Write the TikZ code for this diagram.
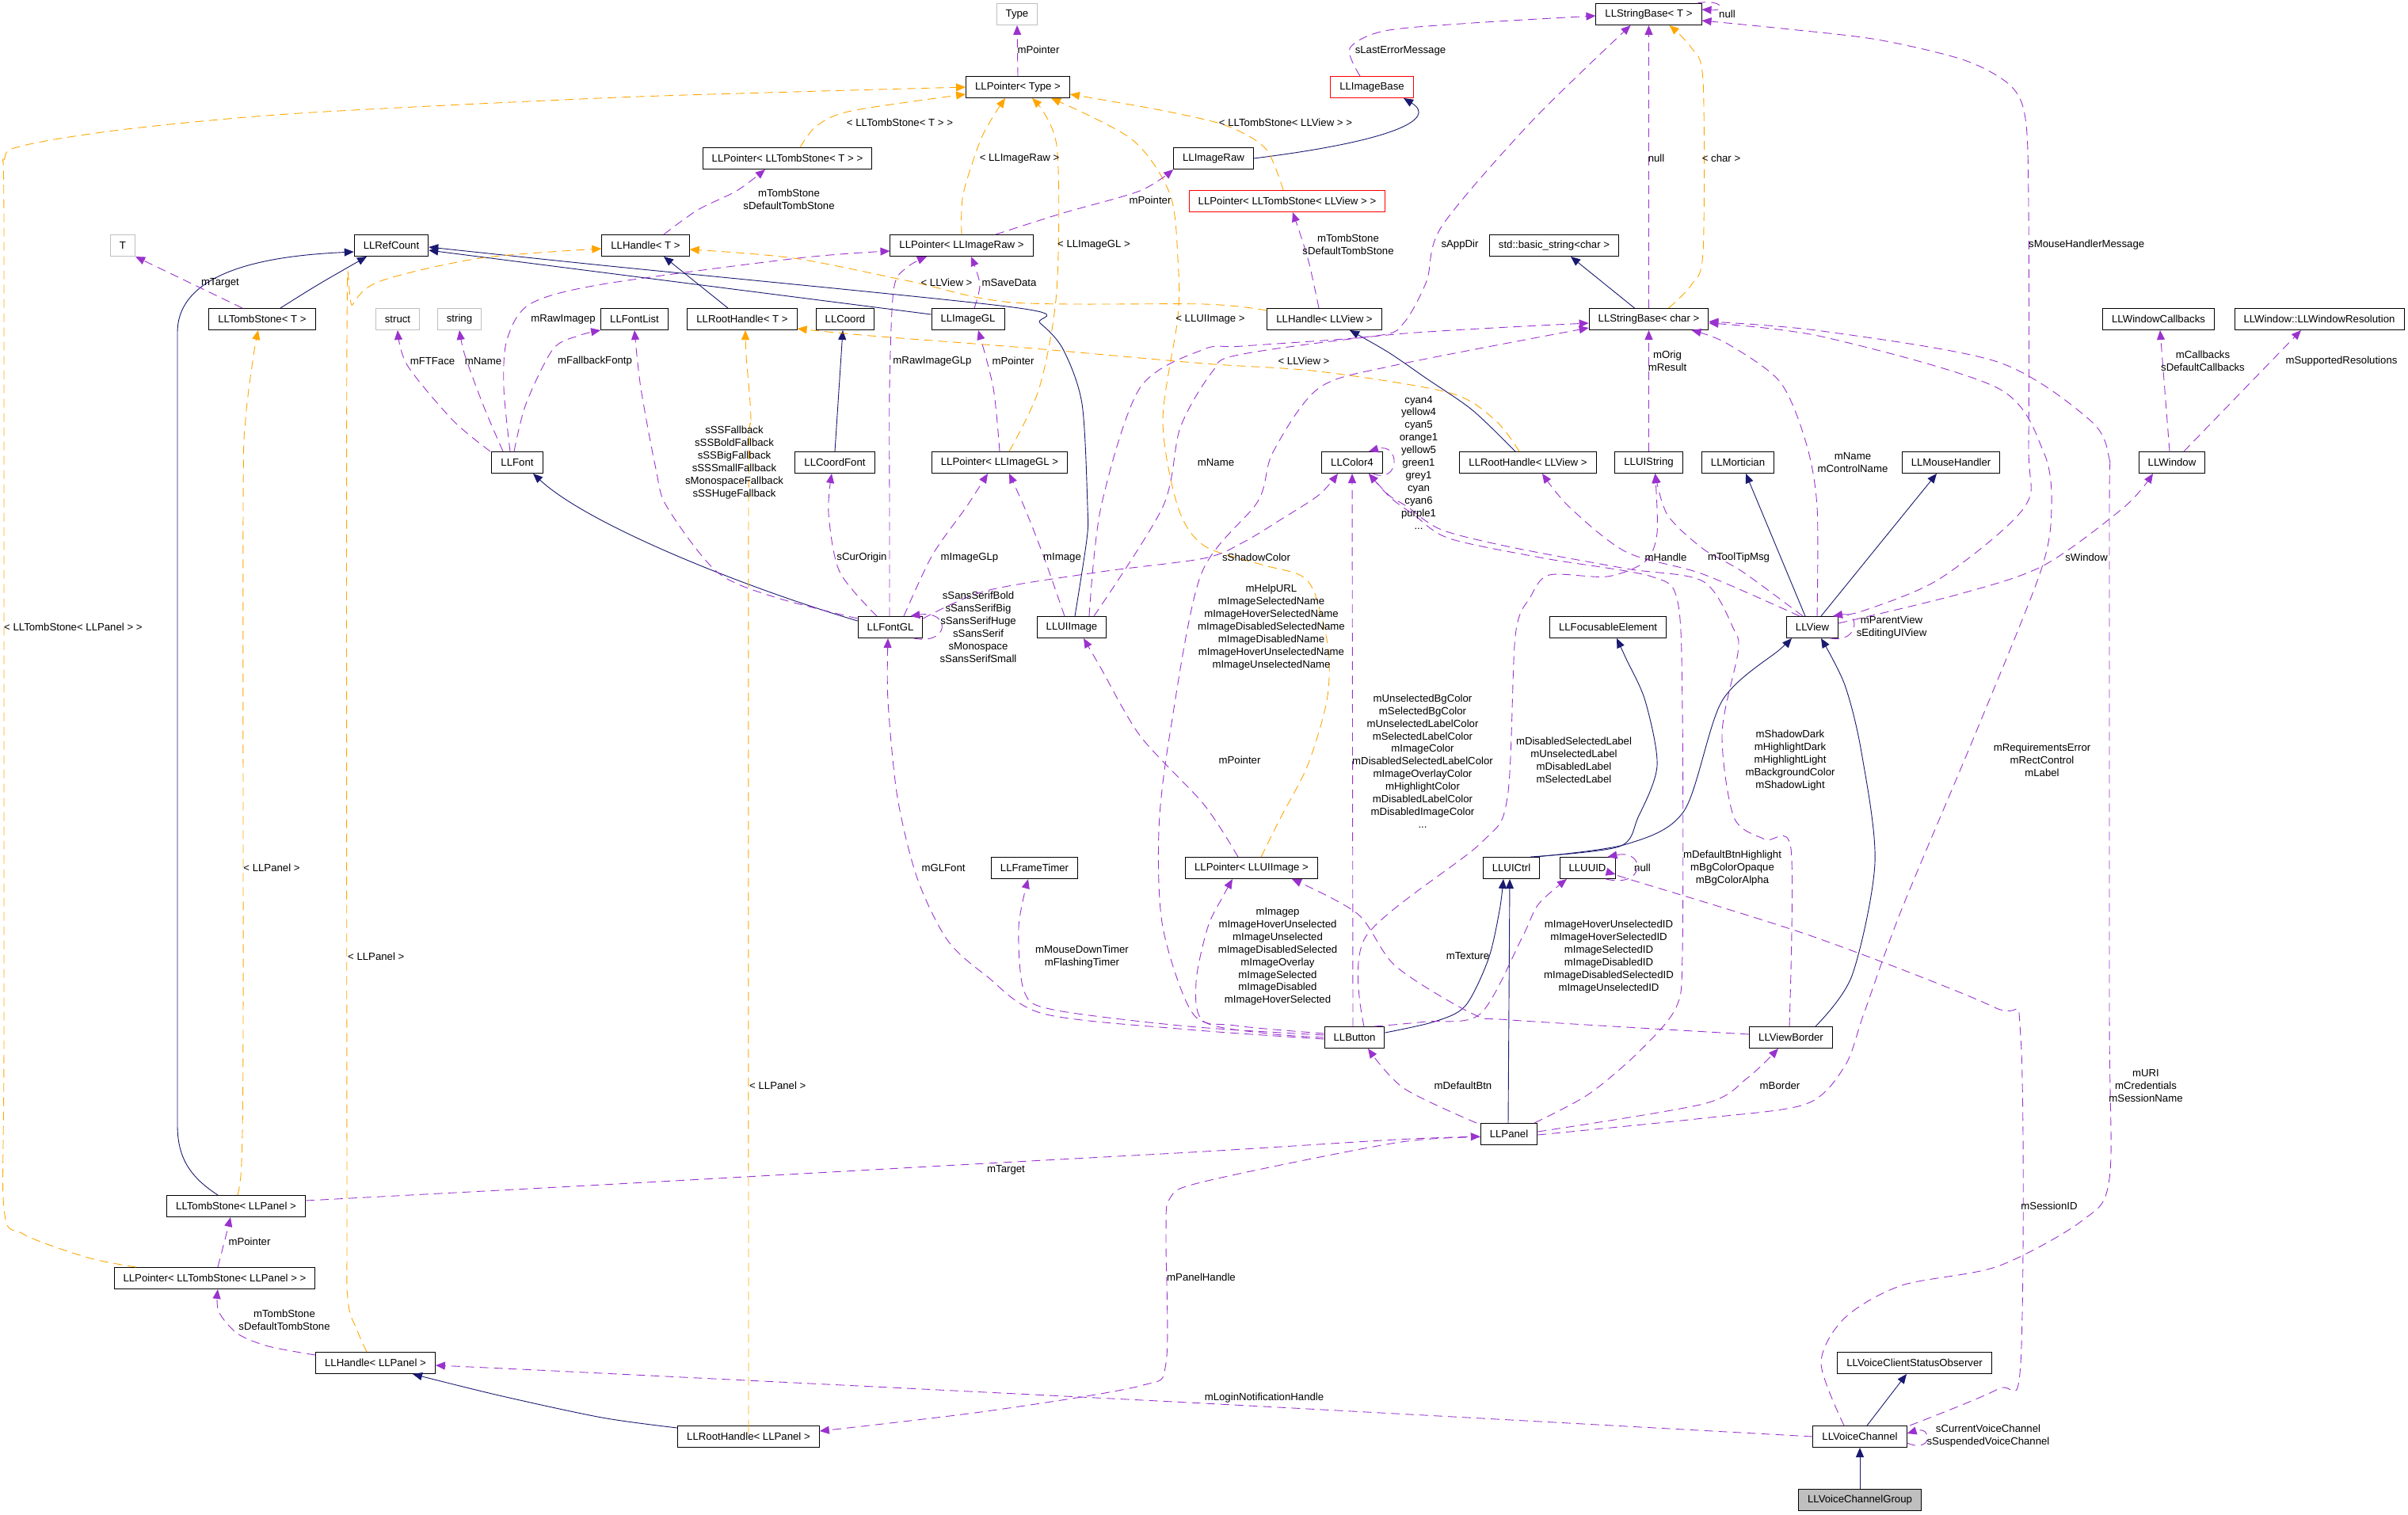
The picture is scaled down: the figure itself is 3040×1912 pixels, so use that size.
\documentclass[tikz,border=0pt]{standalone}
\usepackage{fontspec}
\setmainfont{Liberation Sans}
\usetikzlibrary{arrows.meta}
\definecolor{dxBlue}{RGB}{25,25,112}
\definecolor{dxPurple}{RGB}{154,50,205}
\definecolor{dxOrange}{RGB}{255,165,0}
\definecolor{dxGray}{RGB}{191,191,191}
\newcommand{\dxfont}{\fontsize{13.2}{15.9}\selectfont}

\begin{document}
\begin{tikzpicture}[x=1pt,y=-1pt,
  cls/.style={draw=black,line width=1pt,fill=white,inner xsep=11.5pt,inner ysep=0pt,minimum height=27pt,font=\dxfont},
  ext/.style={cls,draw=dxGray},
  bad/.style={cls,draw=red},
  cur/.style={cls,fill=dxGray},
  inh/.style={dxBlue,line width=0.9pt,-{Triangle[length=12pt,width=10pt]}},
  use/.style={dxPurple,line width=0.9pt,dash pattern=on 11pt off 7pt,-{Triangle[length=12pt,width=10pt]}},
  tpl/.style={dxOrange,line width=0.9pt,dash pattern=on 11pt off 7pt,-{Triangle[length=12pt,width=10pt]}},
  lab/.style={font=\dxfont,align=center,inner sep=0pt}]
\useasboundingbox (0,0) rectangle (3040,1912);
\node[ext] (nT) at (155,310) {T};
\node[cls] (nRef) at (494,310) {LLRefCount};
\node[cls] (nTombT) at (331,403) {LLTombStone< T >};
\node[ext] (nStruct) at (502,403) {struct};
\node[ext] (nString) at (580,403) {string};
\node[cls] (nFont) at (653,584) {LLFont};
\node[ext] (nType) at (1284,18) {Type};
\node[cls] (nPtrType) at (1285,110) {LLPointer< Type >};
\node[cls] (nPtrTombT) at (994,200) {LLPointer< LLTombStone< T > >};
\node[cls] (nHandleT) at (815,310) {LLHandle< T >};
\node[cls] (nPtrRaw) at (1214,310) {LLPointer< LLImageRaw >};
\node[cls] (nFontList) at (801,403) {LLFontList};
\node[cls] (nRootT) at (937,403) {LLRootHandle< T >};
\node[cls] (nCoord) at (1067,403) {LLCoord};
\node[cls] (nImageGL) at (1222,403) {LLImageGL};
\node[cls] (nCoordFont) at (1054,584) {LLCoordFont};
\node[cls] (nPtrGL) at (1262,584) {LLPointer< LLImageGL >};
\node[cls] (nImageRaw) at (1532,200) {LLImageRaw};
\node[bad] (nPtrTombView) at (1625,254) {LLPointer< LLTombStone< LLView > >};
\node[bad] (nImageBase) at (1732,110) {LLImageBase};
\node[cls] (nStrT) at (2081.5,18) {LLStringBase< T >};
\node[cls] (nStdStr) at (1962,310) {std::basic\_string<char >};
\node[cls] (nHandleView) at (1672,403) {LLHandle< LLView >};
\node[cls] (nStrChar) at (2081.5,403) {LLStringBase< char >};
\node[cls] (nColor) at (1707,584) {LLColor4};
\node[cls] (nRootView) at (1929,584) {LLRootHandle< LLView >};
\node[cls] (nUIString) at (2081.5,584) {LLUIString};
\node[cls] (nMortician) at (2194,584) {LLMortician};
\node[cls] (nWinCb) at (2725,403) {LLWindowCallbacks};
\node[cls] (nWinRes) at (2928,403) {LLWindow::LLWindowResolution};
\node[cls] (nMouse) at (2463,584) {LLMouseHandler};
\node[cls] (nWindow) at (2742,584) {LLWindow};
\node[cls] (nFontGL) at (1124,792) {LLFontGL};
\node[cls] (nUIImage) at (1353,792) {LLUIImage};
\node[cls] (nFocus) at (2030,792) {LLFocusableElement};
\node[cls] (nView) at (2288,792) {LLView};
\node[cls] (nTimer) at (1306,1096) {LLFrameTimer};
\node[cls] (nPtrUIImage) at (1580,1096) {LLPointer< LLUIImage >};
\node[cls] (nUICtrl) at (1908,1096) {LLUICtrl};
\node[cls] (nUUID) at (2004,1096) {LLUUID};
\node[cls] (nButton) at (1710,1310) {LLButton};
\node[cls] (nBorder) at (2261,1310) {LLViewBorder};
\node[cls] (nPanel) at (1905,1432) {LLPanel};
\node[cls] (nTombPanel) at (298,1523) {LLTombStone< LLPanel >};
\node[cls] (nPtrTombPanel) at (271,1614) {LLPointer< LLTombStone< LLPanel > >};
\node[cls] (nHandlePanel) at (474,1721) {LLHandle< LLPanel >};
\node[cls] (nObserver) at (2417,1721) {LLVoiceClientStatusObserver};
\node[cls] (nRootPanel) at (945,1814) {LLRootHandle< LLPanel >};
\node[cls] (nVoice) at (2348,1814) {LLVoiceChannel};
\node[cur] (nVoiceGroup) at (2348,1894) {LLVoiceChannelGroup};

\draw[inh] ([xshift=23pt]nTombT.north) .. controls (400,360) .. ([xshift=-31pt]nRef.south);
\draw[inh] ([xshift=-23pt]nTombPanel.north) .. controls (238,1485) and (224,1460) .. (224,1420) -- (224,420) .. controls (224,335) and (360,322) .. ([yshift=-8pt]nRef.west);
\draw[inh] ([yshift=6pt]nImageGL.west) -- ([yshift=-6pt]nRef.east);
\draw[inh] plot[smooth] coordinates {([xshift=4pt]nUIImage.north) (1372,681) (1373,640) (1366,510) (1342,441) (1313,408) (1279,388) (760,335) ([yshift=-2pt]nRef.east)};
\draw[inh] ([xshift=-18pt]nRootT.north) -- ([xshift=23pt]nHandleT.south);
\draw[inh] plot[smooth] coordinates {([yshift=11pt]nRootPanel.west) (760,1790) (630,1762) ([xshift=47pt]nHandlePanel.south)};
\draw[inh] plot[smooth] coordinates {([xshift=-16pt]nRootView.north) (1859,518) (1801,478) (1753,445) ([xshift=32pt]nHandleView.south)};
\draw[inh] (nImageRaw.east) .. controls (1760,178) and (1815,150) .. ([xshift=40pt]nImageBase.south);
\draw[inh] ([xshift=-18pt]nStrChar.north) -- ([xshift=21pt]nStdStr.south);
\draw[inh] ([yshift=8pt]nFontGL.west) .. controls (950,745) and (745,665) .. ([xshift=20pt]nFont.south);
\draw[inh] (nCoordFont.north) -- ([xshift=-3pt]nCoord.south);
\draw[inh] ([xshift=-9pt]nView.north) -- ([xshift=10pt]nMortician.south);
\draw[inh] ([xshift=11pt]nView.north) -- ([xshift=-18pt]nMouse.south);
\draw[inh] plot[smooth] coordinates {([xshift=24pt]nUICtrl.north) (2044,1069) (2068,1032) (2092,967) (2077,885) (2053,832) ([xshift=11pt]nFocus.south)};
\draw[inh] plot[smooth] coordinates {([xshift=30pt]nUICtrl.north) (2053,1066) (2126,1024) (2174,885) (2247,820) ([xshift=-26pt]nView.south)};
\draw[inh] plot[smooth] coordinates {([xshift=31pt]nBorder.north) (2338,1232) (2367,1089) (2350,950) (2329,865) ([xshift=11pt]nView.south)};
\draw[inh] ([xshift=-1pt]nPanel.north) -- ([xshift=-2pt]nUICtrl.south);
\draw[inh] plot[smooth] coordinates {([yshift=6pt]nButton.east) (1811,1290) (1850,1270) (1879,1211) (1893,1150) ([xshift=-10pt]nUICtrl.south)};
\draw[inh] ([xshift=9pt]nVoice.north) -- ([xshift=-10pt]nObserver.south);
\draw[inh] (nVoiceGroup.north) -- (nVoice.south);

\draw[use] (nPtrType.north) -- (nType.south);
\draw[tpl] plot[smooth] coordinates {([xshift=16pt]nPtrTombT.north) (1031,159) (1075,140) ([yshift=5pt]nPtrType.south west)};
\draw[tpl] plot[smooth] coordinates {(nPtrRaw.north) (1216,245) (1240,172) ([xshift=-16pt]nPtrType.south)};
\draw[tpl] plot[smooth] coordinates {([xshift=12pt]nPtrGL.north) (1312,490) (1334,367) (1334,184) ([xshift=18pt]nPtrType.south)};
\draw[tpl] plot[smooth] coordinates {([xshift=12pt]nPtrUIImage.north) (1617,1032) (1651,966) (1675,885) (1677,820) (1660,750) (1641,726) (1593,713) (1520,689) (1487,640) (1468,531) (1487,400) (1487,327) (1477,245) (1429,176) ([xshift=42pt]nPtrType.south)};
\draw[tpl] plot[smooth] coordinates {([xshift=-5pt]nPtrTombView.north) (1598,188) (1549,159) (1470,140) ([yshift=-9pt]nPtrType.east)};
\draw[use] plot[smooth] coordinates {([xshift=-15pt]nImageBase.north) (1704,61) (1748,39) (1859,29) ([yshift=-2pt]nStrT.west)};
\draw[use] plot[smooth] coordinates {([xshift=43pt]nPtrRaw.north) (1342,269) (1439,241) (nImageRaw.south west)};
\draw[use] plot[smooth] coordinates {([xshift=23pt]nHandleT.north) (881,265) (930,241) ([xshift=-28pt]nPtrTombT.south)};
\draw[use] plot[smooth] coordinates {([xshift=-7pt]nHandleView.north) (1651,326) ([xshift=7pt]nPtrTombView.south)};
\draw[use] ([xshift=-25pt]nTombT.north) -- (nT.south east);
\draw[tpl] plot[smooth] coordinates {([xshift=2pt]nTombPanel.north) (305,1468) (307,1300) (307,640) (310,530) (320,449) ([xshift=-5pt]nTombT.south)};
\draw[tpl] plot[smooth] coordinates {([xshift=-99pt]nPtrTombPanel.north) (111,1588) (29,1558) (5,1525) (5,1300) (5,300) (5,204) (29,184) (160,163) (378,143) (756,124) (1002,116) (nPtrType.west)};
\draw[use] plot[smooth] coordinates {([yshift=10pt]nHandlePanel.west) (339,1700) (300,1684) (276,1656) ([xshift=4pt]nPtrTombPanel.south)};
\draw[use] ([xshift=4pt]nPtrTombPanel.north) .. controls (282,1575) .. ([xshift=-7pt]nTombPanel.south);
\draw[tpl] plot[smooth] coordinates {([xshift=-11pt]nHandlePanel.north) (451,1680) (439,1639) (438,1500) (438,420) (445,385) (480,355) (606,326) ([yshift=-4pt]nHandleT.west)};
\draw[tpl] plot[smooth] coordinates {(nRootPanel.north) (945,1700) (945,640) (948,531) (942,449) ([xshift=4pt]nRootT.south)};
\draw[tpl] plot[smooth] coordinates {([xshift=-11pt]nRootView.north) (1888,531) (1830,496) (1665,469) (1520,459) (1293,439) (1099,424) ([yshift=-12pt]nRootT.east)};
\draw[tpl] plot[smooth] coordinates {([yshift=11pt]nHandleView.west) (1520,384) (1279,382) (1148,355) (1002,326) ([yshift=-5pt]nHandleT.east)};
\draw[use] plot[smooth] coordinates {([xshift=-34pt]nFont.north) (572,531) (514,461) (nStruct.south)};
\draw[use] plot[smooth] coordinates {([xshift=-18pt]nFont.north) (611,514) (587,449) (nString.south)};
\draw[use] plot[smooth] coordinates {([xshift=-9pt]nFont.north) (636,490) (640,429) (669,384) (760,359) (1007,326) ([yshift=-7pt]nPtrRaw.west)};
\draw[use] plot[smooth] coordinates {([xshift=-4pt]nFont.north) (664,510) (698,441) (730,424) (nFontList.south west)};
\draw[use] plot[smooth] coordinates {([yshift=11pt]nFontGL.west) (978,754) (905,722) (842,640) (828,592) (809,490) (nFontList.south)};
\draw[use] plot[smooth] coordinates {([xshift=-17pt]nFontGL.north) (1060,722) (1046,648) ([xshift=-4pt]nCoordFont.south)};
\draw[use] plot[smooth] coordinates {([xshift=-1pt]nFontGL.north) (1123,640) (1123,490) (1128,367) (1143,339) ([xshift=-44pt]nPtrRaw.south)};
\draw[use] plot[smooth] coordinates {([xshift=17pt]nFontGL.north) (1177,701) (1220,640) ([xshift=-15pt]nPtrGL.south)};
\draw[use] ([xshift=-12pt]nFontGL.south east) .. controls (1200,815) and (1200,770) .. ([xshift=-16pt]nFontGL.north east);
\draw[use] plot[smooth] coordinates {([yshift=11pt]nFontGL.east) (1245,746) (1390,722) (1520,705) (1569,685) (1617,656) (1665,625) ([xshift=-18pt]nColor.south)};
\draw[use] plot[smooth] coordinates {([xshift=-9pt]nUIImage.north) (1317,701) (1293,640) ([xshift=12pt]nPtrGL.south)};
\draw[use] plot[smooth] coordinates {([xshift=8pt]nImageGL.north) (1237,359) ([xshift=12pt]nPtrRaw.south)};
\draw[use] plot[smooth] coordinates {(nPtrGL.north) (1254,490) ([xshift=13pt]nImageGL.south)};
\draw[use] plot[smooth] coordinates {([xshift=22pt]nUIImage.north) (1390,640) (1439,490) (1520,441) (1569,437) (1738,424) (1772,408) (1801,355) (1820,286) (1932,155) ([xshift=-23pt]nStrT.south)};
\draw[use] plot[smooth] coordinates {([xshift=28pt]nUIImage.north) (1468,640) (1490,540) (1530,470) (1564,448) (1762,422) ([yshift=-5pt]nStrChar.west)};
\draw[use] plot[smooth] coordinates {([yshift=5pt]nButton.west) (1560,1295) (1506,1280) (1468,1171) (1463,1048) (1477,926) (1516,726) (1588,633) (1607,571) (1665,490) (1762,461) ([yshift=-11pt]nStrChar.west)};
\draw[use] (nUIString.north) -- (nStrChar.south);
\draw[use] (nStrChar.north) -- (nStrT.south);
\draw[tpl] plot[smooth] coordinates {([xshift=25pt]nStrChar.north) (2135,360) (2150,318) (2150,102) (2135,60) ([xshift=26pt]nStrT.south)};
\draw[use] ([xshift=-6pt]nStrT.north east) .. controls (2172,-2) and (2182,14) .. ([yshift=6pt]nStrT.east);
\draw[use] plot[smooth] coordinates {([xshift=26pt]nView.north) (2353,771) (2450,730) (2556,640) (2561,560) (2561,260) (2557,150) (2538,108) (2480,76) (2370,50) (2250,36) ([yshift=-8pt]nStrT.east)};
\draw[use] plot[smooth] coordinates {([yshift=5pt]nView.east) (2474,750) (2580,714) (2682,640) ([xshift=-24pt]nWindow.south)};
\draw[use] ([xshift=-10pt]nView.south east) .. controls (2348,812) and (2348,772) .. ([xshift=-7pt]nView.north east);
\draw[use] ([xshift=-3pt]nWindow.north) -- ([xshift=2pt]nWinCb.south);
\draw[use] ([xshift=15pt]nWindow.north) -- ([xshift=-23pt]nWinRes.south);
\draw[use] plot[smooth] coordinates {([xshift=6pt]nView.north) (2294,640) (2280,559) (2247,482) (2179,433) ([xshift=54pt]nStrChar.south)};
\draw[use] plot[smooth] coordinates {([xshift=-12pt]nView.north) (2200,722) (2150,693) (2105,650) ([xshift=8pt]nUIString.south)};
\draw[use] plot[smooth] coordinates {([xshift=-16pt]nView.north) (2150,725) (2053,697) (1981,640) ([xshift=18pt]nRootView.south)};
\draw[use] ([xshift=26pt]nColor.south) .. controls (1768,612) and (1768,558) .. ([xshift=21pt]nColor.north);
\draw[use] ([xshift=-2pt]nButton.north) -- (nColor.south);
\draw[use] plot[smooth] coordinates {([xshift=-2pt]nBorder.north) (2261,1072) (2228,1060) (2189,1032) (2174,926) (2194,824) (2189,795) (2150,734) (2053,718) (1908,691) (1820,669) (1777,640) (1753,625) ([xshift=21pt]nColor.south)};
\draw[use] plot[smooth] coordinates {([xshift=32pt]nPanel.north) (2005,1382) (2068,1329) (2116,1272) (2124,1200) (2124,900) (2118,760) (2085,728) (1950,705) (1830,680) (1785,650) (1755,628) ([xshift=21pt]nColor.south)};
\draw[use] plot[smooth] coordinates {([xshift=12pt]nButton.north) (1724,1183) (1869,1065) (1903,1007) (1913,803) (1932,754) (1956,726) (2029,728) (2077,709) (2092,673) ([xshift=8pt]nUIString.south)};
\draw[use] plot[smooth] coordinates {(nButton.west) (1600,1305) (1520,1290) (1510,1240) (1525,1170) (1545,1130) ([xshift=-24pt]nPtrUIImage.south)};
\draw[use] plot[smooth] coordinates {([yshift=4pt]nBorder.west) (1908,1288) (1859,1280) (1762,1220) (1714,1154) ([xshift=51pt]nPtrUIImage.south)};
\draw[use] plot[smooth] coordinates {([xshift=-17pt]nPtrUIImage.north) (1520,1016) (1440,930) (1390,844) ([xshift=15pt]nUIImage.south)};
\draw[use] plot[smooth] coordinates {([yshift=-2pt]nButton.west) (1500,1300) (1317,1280) (1245,1232) (1196,1187) (1158,1109) (1133,1007) (1121,885) ([xshift=-3pt]nFontGL.south)};
\draw[use] plot[smooth] coordinates {([yshift=3pt]nButton.west) (1500,1296) (1330,1275) (1293,1252) (1286,1171) ([xshift=-8pt]nTimer.south)};
\draw[use] plot[smooth] coordinates {([xshift=25pt]nButton.north) (1800,1290) (1869,1280) (1922,1183) (1942,1142) ([xshift=-26pt]nUUID.south)};
\draw[use] ([xshift=-12pt]nUUID.south east) .. controls (2078,1122) and (2078,1072) .. ([xshift=-10pt]nUUID.north east);
\draw[use] plot[smooth] coordinates {([xshift=-41pt]nPanel.north) (1772,1374) ([xshift=17pt]nButton.south)};
\draw[use] plot[smooth] coordinates {([yshift=3pt]nPanel.east) (2150,1394) (2205,1362) ([xshift=-16pt]nBorder.south)};
\draw[use] plot[smooth] coordinates {([yshift=-1pt]nPanel.east) (2150,1412) (2280,1394) (2329,1346) (2353,1280) (2400,1150) (2494,926) (2576,722) (2590,640) (2580,571) (2522,490) (2300,425) ([yshift=-5pt]nStrChar.east)};
\draw[use] plot[smooth] coordinates {([yshift=-4pt]nPanel.west) (1762,1443) (1520,1492) (1477,1513) (1472,1560) (1472,1721) (1439,1750) (1245,1782) ([yshift=7pt]nRootPanel.east)};
\draw[use] plot[smooth] coordinates {([yshift=7pt]nTombPanel.east) (760,1496) (1245,1469) (1520,1454) (1762,1439) ([yshift=-3pt]nPanel.west)};
\draw[use] plot[smooth] coordinates {([xshift=-20pt]nVoice.north) (2299,1721) (2329,1664) (2401,1623) (2522,1599) (2629,1541) (2663,1488) (2663,1280) (2663,640) (2663,580) (2639,531) (2522,457) (2300,418) ([yshift=-3pt]nStrChar.east)};
\draw[use] plot[smooth] coordinates {([xshift=63pt]nVoice.north) (2522,1754) (2551,1721) (2551,1309) (2518,1272) (2290,1183) (2053,1109) ([yshift=-8pt]nUUID.east)};
\draw[use] ([yshift=-8pt]nVoice.east) .. controls (2440,1836) and (2440,1800) .. ([yshift=4pt]nVoice.east);
\draw[use] plot[smooth] coordinates {(nVoice.west) (1520,1772) (760,1734) ([yshift=-3pt]nHandlePanel.east)};

\node[lab] (l1) at (1311,63) {mPointer};
\node[lab] (l2) at (1136,155) {< LLTombStone< T > >};
\node[lab] (l3) at (1287,200) {< LLImageRaw >};
\node[lab] (l4) at (1381,309) {< LLImageGL >};
\node[lab] (l5) at (1528,403) {< LLUIImage >};
\node[lab] (l6) at (1623,155) {< LLTombStone< LLView > >};
\node[lab] (l7) at (1768,64) {sLastErrorMessage};
\node[lab] (l9) at (1452,253) {mPointer};
\node[lab] (l10) at (996,252) {mTombStone\\sDefaultTombStone};
\node[lab] (l11) at (1702,309) {mTombStone\\sDefaultTombStone};
\node[lab] (l12) at (278,357) {mTarget};
\node[lab] (l15) at (343,1096) {< LLPanel >};
\node[lab,anchor=west] (l16) at (5,792) {< LLTombStone< LLPanel > >};
\node[lab] (l17) at (359,1667) {mTombStone\\sDefaultTombStone};
\node[lab] (l18) at (315,1568) {mPointer};
\node[lab,anchor=west] (l19) at (439,1208) {< LLPanel >};
\node[lab,anchor=west] (l21) at (946,1371) {< LLPanel >};
\node[lab] (l23) at (1646,456) {< LLView >};
\node[lab] (l24) at (1195,357) {< LLView >};
\node[lab] (l28) at (546,456) {mFTFace};
\node[lab] (l29) at (610,456) {mName};
\node[lab] (l30) at (711,403) {mRawImagep};
\node[lab] (l31) at (751,456) {mFallbackFontp};
\node[lab] (l33) at (927,584) {sSSFallback\\sSSBoldFallback\\sSSBigFallback\\sSSSmallFallback\\sMonospaceFallback\\sSSHugeFallback};
\node[lab] (l34) at (1088,704) {sCurOrigin};
\node[lab] (l36) at (1177,456) {mRawImageGLp};
\node[lab] (l37) at (1224,704) {mImageGLp};
\node[lab] (l38) at (1235,792) {sSansSerifBold\\sSansSerifBig\\sSansSerifHuge\\sSansSerif\\sMonospace\\sSansSerifSmall};
\node[lab] (l39) at (1586,704) {sShadowColor};
\node[lab] (l40) at (1341,704) {mImage};
\node[lab] (l41) at (1274,357) {mSaveData};
\node[lab] (l42) at (1279,456) {mPointer};
\node[lab] (l43) at (1843,309) {sAppDir};
\node[lab] (l44) at (1535,584) {mName};
\node[lab] (l45) at (1605,792) {mHelpURL\\mImageSelectedName\\mImageHoverSelectedName\\mImageDisabledSelectedName\\mImageDisabledName\\mImageHoverUnselectedName\\mImageUnselectedName};
\node[lab] (l46) at (2105,456) {mOrig\\mResult};
\node[lab] (l47) at (2091,200) {null};
\node[lab] (l48) at (2173,200) {< char >};
\node[lab,anchor=west] (l50) at (2170,18) {null};
\node[lab,anchor=west] (l51) at (2561,309) {sMouseHandlerMessage};
\node[lab] (l52) at (2634,704) {sWindow};
\node[lab] (l53) at (2388,792) {mParentView\\sEditingUIView};
\node[lab] (l56) at (2781,456) {mCallbacks\\sDefaultCallbacks};
\node[lab] (l57) at (2956,456) {mSupportedResolutions};
\node[lab] (l58) at (2339,584) {mName\\mControlName};
\node[lab] (l59) at (2195,704) {mToolTipMsg};
\node[lab] (l60) at (2103,704) {mHandle};
\node[lab] (l61) at (1791,584) {cyan4\\yellow4\\cyan5\\orange1\\yellow5\\green1\\grey1\\cyan\\cyan6\\purple1\\...};
\node[lab] (l62) at (1796,961) {mUnselectedBgColor\\mSelectedBgColor\\mUnselectedLabelColor\\mSelectedLabelColor\\mImageColor\\mDisabledSelectedLabelColor\\mImageOverlayColor\\mHighlightColor\\mDisabledLabelColor\\mDisabledImageColor\\...};
\node[lab] (l63) at (2260,960) {mShadowDark\\mHighlightDark\\mHighlightLight\\mBackgroundColor\\mShadowLight};
\node[lab] (l64) at (2187,1096) {mDefaultBtnHighlight\\mBgColorOpaque\\mBgColorAlpha};
\node[lab] (l65) at (1987,960) {mDisabledSelectedLabel\\mUnselectedLabel\\mDisabledLabel\\mSelectedLabel};
\node[lab] (l71) at (1613,1208) {mImagep\\mImageHoverUnselected\\mImageUnselected\\mImageDisabledSelected\\mImageOverlay\\mImageSelected\\mImageDisabled\\mImageHoverSelected};
\node[lab] (l72) at (1853,1207) {mTexture};
\node[lab] (l73) at (1565,960) {mPointer};
\node[lab] (l74) at (1191,1096) {mGLFont};
\node[lab] (l75) at (1366,1208) {mMouseDownTimer\\mFlashingTimer};
\node[lab] (l76) at (2031,1208) {mImageHoverUnselectedID\\mImageHoverSelectedID\\mImageSelectedID\\mImageDisabledID\\mImageDisabledSelectedID\\mImageUnselectedID};
\node[lab,anchor=west] (l77) at (2063,1096) {null};
\node[lab] (l78) at (1847,1371) {mDefaultBtn};
\node[lab] (l79) at (2247,1371) {mBorder};
\node[lab] (l80) at (2578,960) {mRequirementsError\\mRectControl\\mLabel};
\node[lab,anchor=west] (l81) at (1473,1613) {mPanelHandle};
\node[lab] (l82) at (1270,1477) {mTarget};
\node[lab] (l83) at (2709,1371) {mURI\\mCredentials\\mSessionName};
\node[lab] (l84) at (2587,1523) {mSessionID};
\node[lab] (l85) at (2510,1813) {sCurrentVoiceChannel\\sSuspendedVoiceChannel};
\node[lab] (l88) at (1596,1765) {mLoginNotificationHandle};
\end{tikzpicture}
\end{document}
